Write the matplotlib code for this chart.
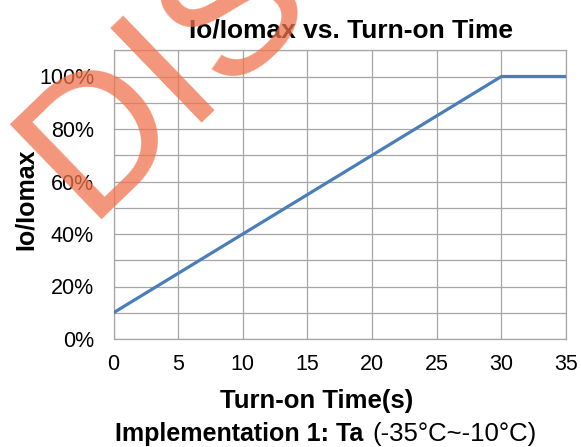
import numpy as np
import matplotlib.pyplot as plt
from matplotlib.ticker import MultipleLocator, PercentFormatter

plt.rcParams['font.family'] = ['Liberation Sans', 'DejaVu Sans']

# curve
time_s = [0, 30, 35]
ratio = [0.10, 1.00, 1.00]

x_ticks = [0, 5, 10, 15, 20, 25, 30, 35]
y_ticks = [0.0, 0.2, 0.4, 0.6, 0.8, 1.0]

W, H = 581, 447
fig = plt.figure(figsize=(W / 100, H / 100), dpi=100)
ax = fig.add_axes([113.5 / W, 1 - 339 / H, 452.5 / W, 288.75 / H])

ax.plot(time_s, ratio, color='#4A7EBB', lw=2.3, solid_capstyle='butt', zorder=3)

ax.set_xlim(0, 35)
ax.set_ylim(0, 1.1)
ax.set_xticks(x_ticks)
ax.set_yticks(y_ticks)
ax.yaxis.set_minor_locator(MultipleLocator(0.1))
ax.yaxis.set_major_formatter(PercentFormatter(1.0, decimals=0))
ax.grid(True, which='both', color='#A6A6A6', lw=0.9)
ax.set_axisbelow(True)
for s in ax.spines.values():
    s.set_color('#A6A6A6')
    s.set_linewidth(0.9)
ax.tick_params(which='both', length=0, labelsize=15.5, colors='black')
ax.tick_params(axis='y', pad=14)
ax.tick_params(axis='x', pad=11)

# title and labels placed where they sit in the picture
fig.text(351 / W, 1 - 37 / H, 'Io/Iomax vs. Turn-on Time', fontsize=19, fontweight='bold',
         ha='center', va='baseline')
fig.text(317 / W, 1 - 408 / H, 'Turn-on Time(s)', fontsize=18.5, fontweight='bold',
         ha='center', va='baseline')
fig.text(33 / W, 1 - 199 / H, 'Io/Iomax', fontsize=18, fontweight='bold', rotation=90,
         rotation_mode='anchor', ha='center', va='baseline')

fig.text(363 / W, 1 - 441 / H, 'Implementation 1: Ta', fontsize=18, fontweight='bold',
         ha='right', va='baseline')
fig.text(372 / W, 1 - 441 / H, '(-35°C~-10°C)', fontsize=18.5, ha='left', va='baseline')

# watermark
fig.text(86 / W, 1 - 220 / H, 'DIS', fontsize=138, color='#F0734E', alpha=0.75,
         rotation=44, rotation_mode='anchor', ha='left', va='baseline', zorder=10)

fig.savefig('out.png', dpi=100)
